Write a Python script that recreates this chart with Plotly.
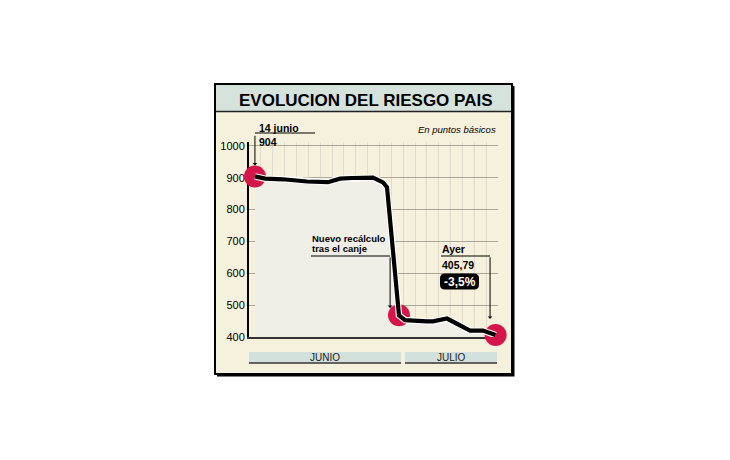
import plotly.graph_objects as go

# riesgo pais, en puntos basicos (posicion en el eje de dias)
dias = [0.5, 1.35, 2.87, 4.89, 6.66, 7.67, 8.69, 10.46, 11.3, 11.64, 12.65,
        13.16, 15.01, 15.52, 16.7, 18.64, 19.74, 20.8]
riesgo = [904, 897, 895, 888, 886, 897, 899, 900, 885, 870, 468,
          453, 449, 449, 458, 420, 420, 406]
hitos = [0, 10, len(dias) - 1]   # puntos marcados en rojo

ticks_y = [400, 500, 600, 700, 800, 900, 1000]
meses = ["JUNIO", "JULIO"]

NARROW = "Liberation Sans Narrow, Liberation Sans, Arial, sans-serif"
SANS = "Liberation Sans, Arial, sans-serif"

# plot area in window pixels (page has an 8px body margin)
OFF = 8
L, R, T, B = 249, 498, 142, 337
def px(x):
    return (x - L) / (R - L)
def py(y):
    return (B - y) / (B - T)

def rounded(x0, x1, y0, y1, r):
    # rounded rectangle path in paper coords, input in window pixels
    rx, ry = r / (R - L), r / (B - T)
    a, b, c, d = px(x0), px(x1), py(y1), py(y0)   # left, right, bottom, top
    return (f"M {a + rx},{c} L {b - rx},{c} Q {b},{c} {b},{c + ry} L {b},{d - ry} "
            f"Q {b},{d} {b - rx},{d} L {a + rx},{d} Q {a},{d} {a},{d - ry} "
            f"L {a},{c + ry} Q {a},{c} {a + rx},{c} Z")

fig = go.Figure()

# area under the line
fig.add_trace(go.Scatter(x=dias, y=riesgo, mode="lines", line=dict(width=0, color="rgba(0,0,0,0)"),
                         fill="tozeroy", fillcolor="#efeee7", hoverinfo="skip"))
# red dots
fig.add_trace(go.Scatter(x=[dias[i] for i in hitos], y=[riesgo[i] for i in hitos], mode="markers",
                         marker=dict(size=22, color="#d4164a"), cliponaxis=False, hoverinfo="skip"))
# white halo + black line
fig.add_trace(go.Scatter(x=dias, y=riesgo, mode="lines", line=dict(color="white", width=6.5),
                         cliponaxis=False, hoverinfo="skip"))
fig.add_trace(go.Scatter(x=dias, y=riesgo, mode="lines", line=dict(color="black", width=4.2),
                         cliponaxis=False, hovertemplate="%{y}<extra></extra>"))

shapes = [
    # frame with heavier shadow on right / bottom
    dict(type="rect", xref="paper", yref="paper", x0=px(217), x1=px(514.5), y0=py(86), y1=py(376.5),
         fillcolor="black", line=dict(width=0), layer="below"),
    dict(type="rect", xref="paper", yref="paper", x0=px(215), x1=px(512), y0=py(84), y1=py(374),
         fillcolor="#f6f1dc", line=dict(color="black", width=2), layer="below"),
    # title band
    dict(type="rect", xref="paper", yref="paper", x0=px(216), x1=px(511), y0=py(85), y1=py(111),
         fillcolor="#d5e3dc", line=dict(width=0), layer="below"),
    dict(type="line", xref="paper", yref="paper", x0=px(216), x1=px(511), y0=py(111.5), y1=py(111.5),
         line=dict(color="#222", width=1.5), layer="below"),
    # month bands
    dict(type="rect", xref="paper", yref="paper", x0=px(249), x1=px(401), y0=py(352), y1=py(362.5),
         fillcolor="#d3e1dc", line=dict(width=0), layer="below"),
    dict(type="line", xref="paper", yref="paper", x0=px(249), x1=px(401), y0=py(363), y1=py(363),
         line=dict(color="#333", width=1.5), layer="below"),
    dict(type="rect", xref="paper", yref="paper", x0=px(405), x1=px(497), y0=py(352), y1=py(362.5),
         fillcolor="#d3e1dc", line=dict(width=0), layer="below"),
    dict(type="line", xref="paper", yref="paper", x0=px(405), x1=px(497), y0=py(363), y1=py(363),
         line=dict(color="#333", width=1.5), layer="below"),
    # leader lines
    dict(type="line", xref="paper", yref="paper", x0=px(255), x1=px(315), y0=py(133), y1=py(133),
         line=dict(color="black", width=1)),
    dict(type="line", xref="paper", yref="paper", x0=px(311), x1=px(390), y0=py(256), y1=py(256),
         line=dict(color="black", width=1)),
    dict(type="line", xref="paper", yref="paper", x0=px(441), x1=px(490), y0=py(256), y1=py(256),
         line=dict(color="black", width=1)),
    # black pill behind the variation
    dict(type="path", xref="paper", yref="paper", path=rounded(440, 479, 273.5, 289.5, 5),
         fillcolor="black", line=dict(width=0)),
]

def txt(text, x, y, size=10, xanchor="left", color="black", family=SANS, **kw):
    return dict(text=text, xref="paper", yref="paper", x=px(x), y=py(y), showarrow=False,
                xanchor=xanchor, yanchor="middle", font=dict(family=family, size=size, color=color), **kw)

annotations = [
    txt("<b>EVOLUCION DEL RIESGO PAIS</b>", 365, 100, size=17, xanchor="center"),
    txt("<b>14 junio</b>", 257, 127.5, size=10.5),
    txt("<b>904</b>", 257, 141.5, size=10.5),
    txt("<i>En puntos básicos</i>", 498, 129, size=9.5, xanchor="right"),
    txt("<b>Nuevo recálculo</b>", 310, 238.5, size=9.5),
    txt("<b>tras el canje</b>", 310, 248.5, size=9.5),
    txt("<b>Ayer</b>", 440, 249, size=10.5),
    txt("<b>405,79</b>", 440, 264.5, size=10.5),
    txt("<b>-3,5%</b>", 459.5, 281.5, size=12, xanchor="center", color="white"),
    txt(meses[0], 325, 357.5, size=10, xanchor="center", color="#222"),
    txt(meses[1], 451, 357.5, size=10, xanchor="center", color="#222"),
    # arrows
    dict(x=dias[0], y=riesgo[0], xref="x", yref="y", text="", showarrow=True, ax=0, ay=-42,
         arrowhead=1, arrowsize=0.8, arrowwidth=1, arrowcolor="black", standoff=11),
    dict(x=11.9, y=491, xref="x", yref="y", text="", showarrow=True, ax=0, ay=-52,
         arrowhead=1, arrowsize=0.8, arrowwidth=1, arrowcolor="black"),
    dict(x=20.33, y=457, xref="x", yref="y", text="", showarrow=True, ax=0, ay=-63,
         arrowhead=1, arrowsize=0.8, arrowwidth=1, arrowcolor="black"),
]

fig.update_layout(
    width=730, height=460,
    margin=dict(l=L - OFF, r=730 - (R - OFF), t=T - OFF, b=460 - (B - OFF), pad=0),
    paper_bgcolor="white", plot_bgcolor="rgba(0,0,0,0)",
    showlegend=False,
    shapes=shapes, annotations=annotations,
    xaxis=dict(range=[0, 21], tick0=0, dtick=1, showgrid=True, gridcolor="#e3dbd2", gridwidth=1,
               showticklabels=False, ticks="", showline=True, linecolor="#333", linewidth=2,
               zeroline=False, fixedrange=True, layer="below traces"),
    yaxis=dict(range=[400, 1012], tickvals=ticks_y, showgrid=True, gridcolor="#aba79b", gridwidth=1,
               showline=True, linecolor="black", linewidth=2, ticks="", zeroline=False,
               tickfont=dict(family=NARROW, size=11, color="black"), fixedrange=True,
               layer="below traces"),
)

fig.write_html("out.html")
